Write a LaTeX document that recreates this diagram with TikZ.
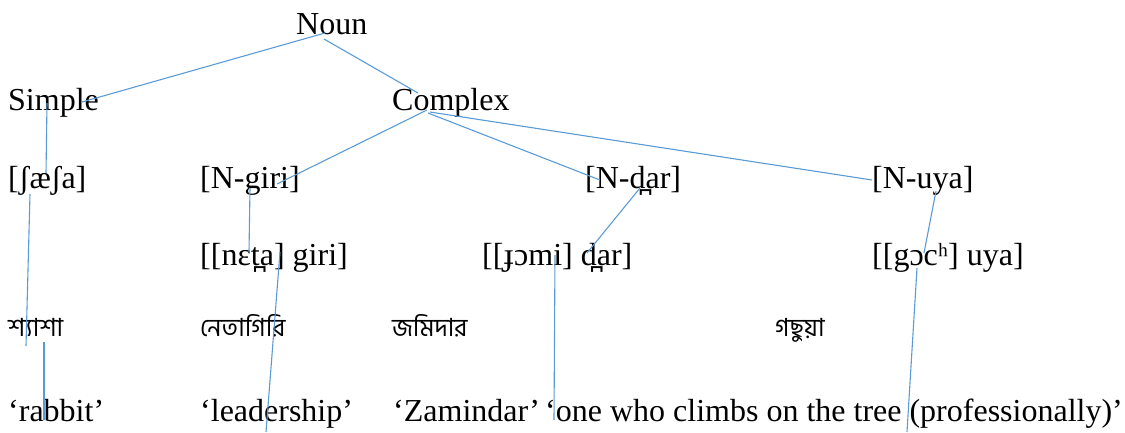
\documentclass[tikz,border=0pt]{standalone}
\usepackage{fontspec}
\setmainfont{Liberation Serif}
\newfontfamily\bn[Script=Bengali]{Hind Siliguri}
\usetikzlibrary{calc}
\definecolor{treeblue}{HTML}{5B9BD5}
\tikzset{
  txt/.style={anchor=base west, inner sep=0pt, font=\fontsize{32}{38}\selectfont},
  bng/.style={anchor=base west, inner sep=0pt, font=\bn\fontsize{25}{30}\selectfont},
  branch/.style={draw=treeblue, line width=1.1pt}
}
\begin{document}
\begin{tikzpicture}[x=1pt,y=-1pt]
\useasboundingbox (0,0) rectangle (1125,432);
% row 1-2
\node[txt] (noun) at (296,34) {Noun};
\node[txt] (simple) at (8,110) {Simple};
\node[txt] (complex) at (392,110) {Complex};
% row 3
\node[txt] (shasha) at (8,188) {[ʃæʃa]};
\node[txt] (ngiri) at (200,188) {[N-giri]};
\node[txt] (ndar) at (585,188) {[N-d̪ar]};
\node[txt] (nuya) at (872,188) {[N-uya]};
% row 4
\node[txt] (netagiri) at (200,265) {[[nɛt̪a] giri]};
\node[txt] (jomidar) at (482,265) {[[ɟɔmi] d̪ar]};
\node[txt] (gochuya) at (872,265) {[[gɔcʰ] uya]};
% row 5 Bengali
\node[bng] (bn1) at (8,336) {শ্যাশা};
\node[bng] (bn2) at (200,336) {নেতাগিরি};
\node[bng] (bn3) at (392,336) {জমিদার};
\node[bng] (bn4) at (775,336) {গছুয়া};
% row 6 glosses
\node[txt] (gl1) at (8,421) {‘rabbit’};
\node[txt] (gl2) at (200,421) {‘leadership’};
\node[txt] (gl3) at (393,421) {‘Zamindar’};
\node[txt] (gl4) at (545,421) {‘one who climbs on the tree (professionally)’};
% connectors
\draw[branch] ($(noun.base west)+(29,-1)$) -- ($(simple.base west)+(74,-8)$);
\draw[branch] ($(noun.base west)+(28,5)$) -- ($(complex.base west)+(26,-17)$);
\draw[branch] ($(simple.base west)+(39,-7)$) -- ($(shasha.base west)+(38,-15)$);
\draw[branch] ($(complex.base west)+(35,0)$) -- ($(ngiri.base west)+(77,-4)$);
\draw[branch] ($(complex.base west)+(36,3)$) -- ($(ndar.base west)+(15,-8)$);
\draw[branch] ($(complex.base west)+(38,2)$) -- ($(nuya.base west)+(0,-8)$);
\draw[branch] ($(shasha.base west)+(22,6)$) -- ($(bn1.base west)+(18,10)$);
\draw[branch] ($(bn1.base west)+(36,6)$) -- ($(gl1.base west)+(36,-1)$);
\draw[branch] ($(ngiri.base west)+(50,0)$) -- ($(netagiri.base west)+(49,-13)$);
\draw[branch] ($(netagiri.base west)+(80,-13)$) -- ($(gl2.base west)+(66,11)$);
\draw[branch] ($(ndar.base west)+(55,0)$) -- ($(jomidar.base west)+(105,-12)$);
\draw[branch] ($(jomidar.base west)+(73,-10)$) -- ($(gl4.base west)+(9,-1)$);
\draw[branch] ($(nuya.base west)+(64,3)$) -- ($(gochuya.base west)+(52,-12)$);
\draw[branch] ($(gochuya.base west)+(45,3)$) -- ($(gl4.base west)+(362,11)$);
\end{tikzpicture}
\end{document}
